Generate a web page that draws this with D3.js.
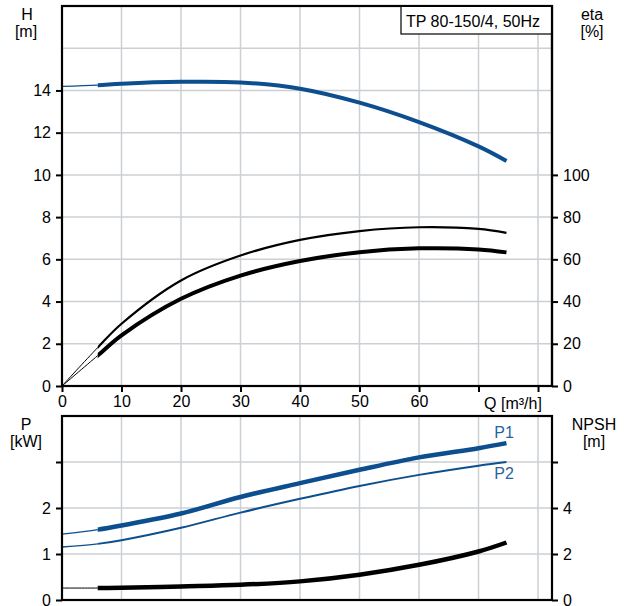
<!DOCTYPE html>
<html>
<head>
<meta charset="utf-8">
<script src="https://cdn.jsdelivr.net/npm/d3@7"></script>
<style>
  body { margin: 0; background: #fff; }
  svg { display: block; font-family: "Liberation Sans", Arial, sans-serif; }
  .tick text { font-size: 16px; fill: #000; }
</style>
</head>
<body>
<svg id="chart" width="625" height="606"></svg>
<script>
// ---- data ----
const flow = [0, 6, 10, 20, 30, 40, 50, 60, 70, 74.7];
const head = [14.19, 14.25, 14.32, 14.41, 14.38, 14.08, 13.42, 12.5, 11.35, 10.66];
const etaUpper = [0, 18.2, 29.5, 50, 61.8, 69.2, 73.4, 75.2, 74.4, 72.5];
const etaLower = [0, 14.4, 24, 41.3, 52.3, 59.2, 63.4, 65.2, 64.7, 63.3];
const powerP1 = [1.43, 1.53, 1.62, 1.88, 2.24, 2.54, 2.83, 3.1, 3.3, 3.41];
const powerP2 = [1.15, 1.22, 1.30, 1.57, 1.90, 2.2, 2.48, 2.72, 2.92, 3.0];
const npsh = [0.52, 0.52, 0.53, 0.59, 0.66, 0.81, 1.1, 1.53, 2.11, 2.5];
const thickFrom = 6;
const xTicks = [0, 10, 20, 30, 40, 50, 60, 70, 80];
const xTickLabels = ["0", "10", "20", "30", "40", "50", "60", "", ""];
const hTicks = [0, 2, 4, 6, 8, 10, 12, 14];
const hGrid = [2, 4, 6, 8, 10, 12, 14, 16];
const etaTicks = [0, 20, 40, 60, 80, 100];
const pTicks = [0, 1, 2, 3];
const pTickLabels = ["0", "1", "2", ""];
const npshTicks = [0, 2, 4, 6];
const npshTickLabels = ["0", "2", "4", ""];
const title = "TP 80-150/4, 50Hz";

// ---- layout ----
const svg = d3.select("#chart");
const left = 62, right = 552;
const topT = 6, botT = 386;
const topB = 416, botB = 600;
const blue = "#0d4f8e", blueText = "#2a62a0", grid = "#ccd0d4";

const x = d3.scaleLinear().domain([0, 82.35]).range([left, right]);
const yH = d3.scaleLinear().domain([0, 18]).range([botT, topT]);
const yEta = d3.scaleLinear().domain([0, 180]).range([botT, topT]);
const yP = d3.scaleLinear().domain([0, 4]).range([botB, topB]);
const yN = d3.scaleLinear().domain([0, 8]).range([botB, topB]);

// clip regions for thin / thick parts
const defs = svg.append("defs");
defs.append("clipPath").attr("id", "thinPart").append("rect")
  .attr("x", 0).attr("y", 0).attr("width", x(thickFrom)).attr("height", 606);
defs.append("clipPath").attr("id", "thickPart").append("rect")
  .attr("x", x(thickFrom)).attr("y", 0).attr("width", 625).attr("height", 606);

function gridLines(yScale, yVals, y0, y1) {
  const g = svg.append("g").attr("stroke", grid).attr("stroke-width", 1.5);
  g.selectAll(".v").data(xTicks.slice(1)).join("line")
    .attr("x1", d => x(d)).attr("x2", d => x(d)).attr("y1", y0).attr("y2", y1);
  g.selectAll(".h").data(yVals).join("line")
    .attr("x1", left).attr("x2", right).attr("y1", d => yScale(d)).attr("y2", d => yScale(d));
}
gridLines(yH, hGrid, topT, botT);
gridLines(yP, [1, 2, 3], topB, botB);

// ---- curves ----
function drawCurve(ys, yScale, color, thinW, thickW) {
  const pts = flow.map((q, i) => [q, ys[i]]);
  const line = d3.line().x(d => x(d[0])).y(d => yScale(d[1])).curve(d3.curveCatmullRom.alpha(0.5));
  const d = line(pts);
  svg.append("path").attr("d", d).attr("clip-path", "url(#thinPart)")
    .attr("fill", "none").attr("stroke", color).attr("stroke-width", thinW);
  svg.append("path").attr("d", d).attr("clip-path", "url(#thickPart)")
    .attr("fill", "none").attr("stroke", color).attr("stroke-width", thickW);
}
drawCurve(head, yH, blue, 1.2, 4);
drawCurve(etaUpper, yEta, "#000", 1, 2.2);
drawCurve(etaLower, yEta, "#000", 1, 4);
drawCurve(powerP2, yP, blue, 1.5, 2);
drawCurve(powerP1, yP, blue, 1.2, 4.5);
drawCurve(npsh, yN, "#000", 1, 4.5);

// ---- frames ----
function frame(y0, y1) {
  svg.append("rect").attr("x", left).attr("y", y0).attr("width", right - left).attr("height", y1 - y0)
    .attr("fill", "none").attr("stroke", "#000").attr("stroke-width", 2.2);
}
frame(topT, botT);
frame(topB, botB);

// ---- axes ----
function styleAxis(g) {
  g.select(".domain").remove();
  g.selectAll(".tick line").attr("stroke", "#000").attr("stroke-width", 2);
  g.selectAll(".tick text").attr("font-family", "Liberation Sans, Arial, sans-serif").attr("font-size", 16);
}
svg.append("g").attr("transform", `translate(${left},0)`)
  .call(d3.axisLeft(yH).tickValues(hTicks).tickSize(6).tickPadding(5).tickFormat(d3.format("d")))
  .call(styleAxis);
svg.append("g").attr("transform", `translate(${right},0)`)
  .call(d3.axisRight(yEta).tickValues(etaTicks).tickSize(6).tickPadding(5).tickFormat(d3.format("d")))
  .call(styleAxis);
svg.append("g").attr("transform", `translate(0,${botT})`)
  .call(d3.axisBottom(x).tickValues(xTicks).tickSize(6).tickPadding(4).tickFormat((d, i) => xTickLabels[i]))
  .call(styleAxis);
svg.append("g").attr("transform", `translate(${left},0)`)
  .call(d3.axisLeft(yP).tickValues(pTicks).tickSize(6).tickPadding(5).tickFormat((d, i) => pTickLabels[i]))
  .call(styleAxis);
svg.append("g").attr("transform", `translate(${right},0)`)
  .call(d3.axisRight(yN).tickValues(npshTicks).tickSize(6).tickPadding(5).tickFormat((d, i) => npshTickLabels[i]))
  .call(styleAxis);

// ---- labels ----
function label(txt, cx, by, anchor, color, size) {
  svg.append("text").attr("x", cx).attr("y", by).attr("text-anchor", anchor || "middle")
    .attr("fill", color || "#000").attr("font-size", size || 16).text(txt);
}
label("H", 27, 20);
label("[m]", 26, 37);
label("eta", 592, 20);
label("[%]", 592, 37);
label("Q [m³/h]", 513, 409);
label("P", 26, 430);
label("[kW]", 26, 447);
label("NPSH", 594, 430);
label("[m]", 594, 447);
label("P1", 504, 438, "middle", blueText);
label("P2", 504, 479, "middle", blueText);

// title box
svg.append("rect").attr("x", 401).attr("y", topT).attr("width", right - 401).attr("height", 28)
  .attr("fill", "#fff").attr("stroke", "#000").attr("stroke-width", 1.2);
svg.append("line").attr("x1", left).attr("x2", right).attr("y1", topT).attr("y2", topT)
  .attr("stroke", "#000").attr("stroke-width", 2.2);
svg.append("line").attr("x1", right).attr("x2", right).attr("y1", topT).attr("y2", botT)
  .attr("stroke", "#000").attr("stroke-width", 2.2);
label(title, 473, 27, "middle", "#000", 16);
</script>
</body>
</html>
